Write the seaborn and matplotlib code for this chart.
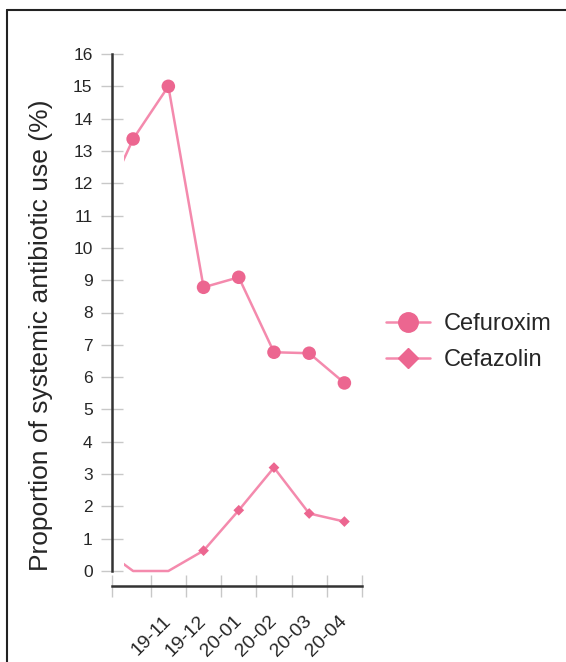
import matplotlib
matplotlib.use("Agg")
import matplotlib.pyplot as plt
from matplotlib.lines import Line2D
from matplotlib.patches import Rectangle
from matplotlib.transforms import ScaledTranslation
import seaborn as sns
import pandas as pd
import numpy as np

# ---- data ----
months = ["19-09", "19-10", "19-11", "19-12", "20-01", "20-02", "20-03", "20-04"]
tick_labels = ["", "", "19-11", "19-12", "20-01", "20-02", "20-03", "20-04"]
cefuroxim = [11.0, 13.37, 15.0, 8.78, 9.09, 6.77, 6.74, 5.82]
cefazolin = [0.8, 0.0, 0.0, 0.63, 1.88, 3.2, 1.78, 1.53]
series_names = ["Cefuroxim", "Cefazolin"]
y_ticks = list(range(0, 17))

pos = np.arange(len(months)) - 1  # 19-10 at 0
df = pd.DataFrame({
    "pos": np.concatenate([pos, pos]),
    "month": months + months,
    "value": cefuroxim + cefazolin,
    "drug": [series_names[0]] * len(months) + [series_names[1]] * len(months),
})

line_col = "#f48aad"
mark_col = "#ec6690"

sns.set_style("white")
plt.rcParams["font.family"] = ["Liberation Sans", "DejaVu Sans"]

fig = plt.figure(figsize=(5.66, 6.62), dpi=100)
ax = fig.add_axes([112 / 566, 1 - 571 / 662, 250 / 566, 517 / 662])

# spines first (set_position resets the ticks)
for s in ["top", "right"]:
    ax.spines[s].set_visible(False)
for s in ["left", "bottom"]:
    ax.spines[s].set_color("#333333")
    ax.spines[s].set_linewidth(1.8)
ax.spines["bottom"].set_position(("outward", 11))

sns.lineplot(data=df, x="pos", y="value", hue="drug",
             palette={n: line_col for n in series_names},
             linewidth=1.8, legend=False, ax=ax, estimator=None, sort=False)

clip = Rectangle((-0.26, -5), 20, 40, transform=ax.transData)
for ln in ax.get_lines():
    ln.set_clip_path(clip)

vis = df[df["pos"] >= 0]
mk_a = vis[vis["drug"] == "Cefuroxim"]
mk_b = vis[(vis["drug"] == "Cefazolin") & (vis["value"] > 0)]
sns.scatterplot(data=mk_a, x="pos", y="value", marker="o", s=95,
                color=mark_col, edgecolor="none", ax=ax, legend=False, zorder=3)
sns.scatterplot(data=mk_b, x="pos", y="value", marker="D", s=30,
                color=mark_col, edgecolor="none", ax=ax, legend=False, zorder=3)

ax.set_xlim(-0.6, 6.5)
ax.set_ylim(0, 16)
ax.set_xticks([-0.6] + list(np.arange(0.5, 7, 1.0)), minor=True)
ax.set_yticks(y_ticks)
ax.tick_params(axis="x", which="major", length=0, pad=19, bottom=True)
ax.tick_params(axis="x", which="minor", direction="inout", length=16,
               width=1, color="#c8c8c8", bottom=True)
ax.tick_params(axis="y", which="major", direction="inout", length=16,
               width=1, color="#c8c8c8", left=True, pad=6, labelsize=12.5)
ax.set_yticks(y_ticks, labels=[str(t) for t in y_ticks])
ax.set_xticks(pos[1:], labels=tick_labels[1:], rotation=45, ha="right",
              va="top", rotation_mode="default", fontsize=14)
shift = ScaledTranslation(6 / 100, 0, fig.dpi_scale_trans)
for lab in ax.get_xticklabels():
    lab.set_transform(lab.get_transform() + shift)
ax.set_xlabel("")
ax.set_ylabel("Proportion of systemic antibiotic use (%)", fontsize=19)
ax.yaxis.set_label_coords(-0.236, 0.456)

handles = [
    Line2D([], [], color=line_col, lw=1.8, marker="o", markersize=14,
           markerfacecolor=mark_col, markeredgecolor=mark_col),
    Line2D([], [], color=line_col, lw=1.8, marker="D", markersize=10,
           markerfacecolor=mark_col, markeredgecolor=mark_col),
]
fig.legend(handles, series_names, loc="center left",
           bbox_to_anchor=(365 / 566, 1 - 342 / 662), frameon=False,
           fontsize=17, handlelength=1.85, labelspacing=0.6, handletextpad=0.6)

# partial frame of the source image
fig.add_artist(Line2D([7 / 566, 1], [1 - 10 / 662, 1 - 10 / 662],
                      transform=fig.transFigure, color="#222222", lw=1.5))
fig.add_artist(Line2D([7 / 566, 7 / 566], [1 - 10 / 662, 0],
                      transform=fig.transFigure, color="#222222", lw=1.5))

fig.savefig("out.png", dpi=100)
